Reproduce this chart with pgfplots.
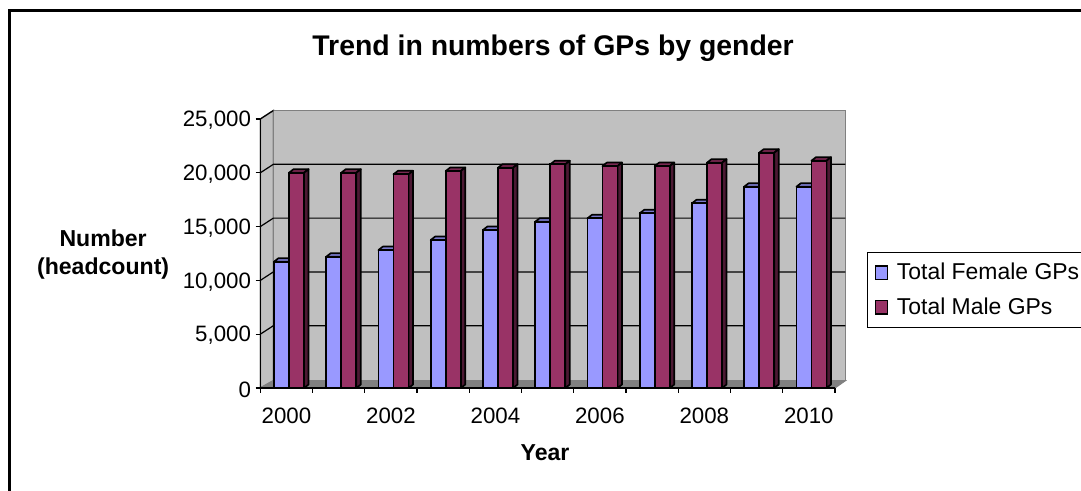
\documentclass[border=0pt]{standalone}
\usepackage{pgfplots}
\usepackage{pgfplotstable}
\usepackage{fontspec}
\setmainfont{Liberation Sans}
\pgfplotsset{compat=1.18}
\definecolor{fem}{HTML}{9999FF}
\definecolor{femtop}{HTML}{7A7ACC}
\definecolor{femside}{HTML}{4C4C80}
\definecolor{mal}{HTML}{993366}
\definecolor{maltop}{HTML}{7A2952}
\definecolor{malside}{HTML}{4C1933}
\definecolor{wall}{HTML}{C0C0C0}
\definecolor{edge}{HTML}{808080}
\pgfplotstableread{
x f m
0  11740 20010
1  12200 20010
2  12825 19860
3  13755 20170
4  14685 20475
5  15455 20790
6  15770 20630
7  16235 20630
8  17165 20940
9  18710 21870
10 18710 21125
}\gpdata
% one bar's top and side, from its front face: x left, x right, value, colours
\newcommand\faces[5]{%
  \pgfmathsetmacro\xa{#1}%
  \pgfmathsetmacro\xb{#2}%
  \pgfmathsetmacro\xc{#1+0.086}%
  \pgfmathsetmacro\xd{#2+0.086}%
  \edef\vt{\the\numexpr#3+325\relax}%
  \edef\temp{\noexpand\addplot[forget plot,fill=#4,draw=black,line width=1.25pt,line join=round] coordinates {(\xa,#3)(\xb,#3)(\xd,\vt)(\xc,\vt)} --cycle;
  \noexpand\addplot[forget plot,fill=#5,draw=black,line width=1.25pt,line join=round] coordinates {(\xb,0)(\xd,325)(\xd,\vt)(\xb,#3)} --cycle;}%
  \temp}
\newcommand\pair[3]{\faces{#1+0.262}{#1+0.55}{#2}{femtop}{femside}\faces{#1+0.55}{#1+0.838}{#3}{maltop}{malside}}
\pgfplotsset{swatch/.style={legend image code/.code={\draw[##1,line width=1.1pt] (0pt,-5pt) rectangle (9pt,5pt);\path (13.5pt,0pt);}}}
\begin{document}
\begin{tikzpicture}[x=0.75pt,y=-0.75pt]
\path[use as bounding box] (0,0) rectangle (1081,490);
\draw[line width=1.6pt,line cap=rect] (9.5,500)--(9.5,10.5)--(1090,10.5);
\begin{axis}[
  at={(195.225pt,-291pt)},anchor=south west,
  scale only axis,width=431pt,height=201.75pt,
  xmin=0,xmax=11,ymin=0,ymax=25000,
  clip=false,axis on top,
  axis x line=bottom,axis y line=left,axis line style={-,line width=0.9pt,black},
  tick align=outside,major tick length=3.5pt,tick style={black,line width=0.9pt},
  xtick={0,1,...,11},xticklabels={},
  extra x ticks={0.5,2.5,4.5,6.5,8.5,10.5},
  extra x tick labels={2000,2002,2004,2006,2008,2010},
  extra x tick style={major tick length=0pt,tick style={draw=none}},
  ytick={0,5000,...,25000},scaled y ticks=false,
  /pgf/number format/.cd,1000 sep={,},assume math mode=true,/pgfplots/.cd,
  tick label style={font=\fontsize{16.7}{19}\selectfont,black},
  xticklabel style={yshift=-11.5pt},
  yticklabel style={yshift=-1pt},
  every axis title shift=0pt,
  title={Trend in numbers of GPs by gender},
  title style={font=\fontsize{21.3}{25}\selectfont\bfseries,at={(axis description cs:0.5095,1.264)},anchor=center},
  xlabel={Year},
  xlabel style={font=\fontsize{17.3}{20}\selectfont\bfseries,at={(axis description cs:0.4955,-0.241)},anchor=center},
  ylabel={Number\\(headcount)},
  ylabel style={font=\fontsize{17.3}{21}\selectfont\bfseries,rotate=-90,align=center,at={(axis description cs:-0.2735,0.4945)},anchor=center},
  legend style={at={(axis description cs:1.0553,0.5056)},anchor=north west,draw=black,line width=0.9pt,
    font=\fontsize{17.2}{19}\selectfont,cells={anchor=west},inner xsep=5.5pt,inner ysep=6pt,row sep=8pt},
  legend cell align=left,
]
% walls, floor and back grid
\addplot[forget plot,fill=wall,draw=edge,line width=1.1pt] coordinates {(0,0)(0.25,680)(0.25,25790)(0,25000)} --cycle;
\addplot[forget plot,fill=wall,draw=edge,line width=1.1pt] coordinates {(0.25,680)(11.2,680)(11.2,25790)(0.25,25790)} --cycle;
\addplot[forget plot,fill=edge,draw=edge,line width=0.8pt] coordinates {(0,0)(11,0)(11.2,680)(0.25,680)} --cycle;
\addplot[forget plot,black,line width=0.9pt] coordinates {(0,5000)(0.25,5790)(11.2,5790)};
\addplot[forget plot,black,line width=0.9pt] coordinates {(0,10000)(0.25,10790)(11.2,10790)};
\addplot[forget plot,black,line width=0.9pt] coordinates {(0,15000)(0.25,15790)(11.2,15790)};
\addplot[forget plot,black,line width=0.9pt] coordinates {(0,20000)(0.25,20790)(11.2,20790)};
\addplot[forget plot,black,line width=0.9pt] coordinates {(0,25000)(0.25,25790)};
% bar tops and sides
\pair{0}{11740}{20010}
\pair{1}{12200}{20010}
\pair{2}{12825}{19860}
\pair{3}{13755}{20170}
\pair{4}{14685}{20475}
\pair{5}{15455}{20790}
\pair{6}{15770}{20630}
\pair{7}{16235}{20630}
\pair{8}{17165}{20940}
\pair{9}{18710}{21870}
\pair{10}{18710}{21125}
% bar fronts
\addplot[ybar,bar width=0.288,bar shift=0.406,fill=fem,draw=black,line width=1.25pt,swatch] table[x=x,y=f] {\gpdata};
\addplot[ybar,bar width=0.288,bar shift=0.694,fill=mal,draw=black,line width=1.25pt,swatch] table[x=x,y=m] {\gpdata};
\legend{Total Female GPs,Total Male GPs}
\end{axis}
\end{tikzpicture}
\end{document}
